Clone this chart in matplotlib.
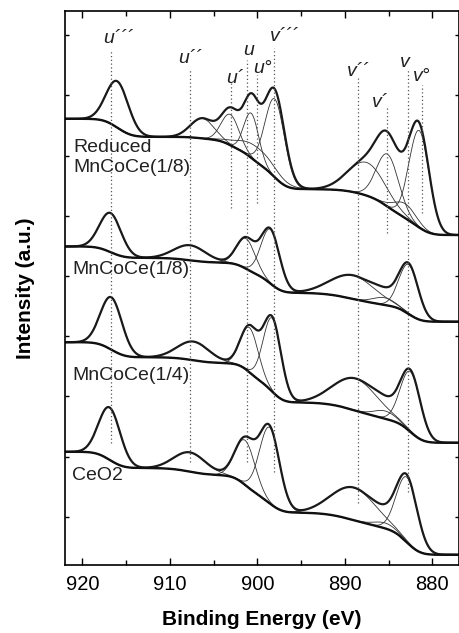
import numpy as np
import matplotlib.pyplot as plt

plt.rcParams['font.family'] = ['Liberation Sans', 'DejaVu Sans']

# Ce 3d fits: peak centre (eV), height, FWHM (eV), background step under each peak
reduced_pos = [916.0, 906.3, 903.1, 900.7, 900.0, 898.0, 887.5, 885.1, 883.1, 881.5]
reduced_height = [0.77, 0.33, 0.51, 0.74, 0.25, 1.30, 0.55, 0.87, 0.24, 1.61]
reduced_fwhm = [3.0, 3.2, 2.4, 2.0, 5.0, 2.6, 5.0, 3.0, 3.0, 2.7]
reduced_step = [0.30, 0.05, 0.15, 0.15, 0.20, 0.32, 0.20, 0.22, 0.12, 0.22]
reduced_base = 5.48

mc18_pos = [916.8, 907.7, 901.3, 898.5, 889.1, 885.5, 882.7]
mc18_height = [0.65, 0.25, 0.50, 0.90, 0.39, 0.12, 0.82]
mc18_fwhm = [2.9, 4.3, 2.5, 2.5, 6.0, 3.0, 2.6]
mc18_step = [0.19, 0.08, 0.20, 0.30, 0.20, 0.03, 0.25]
mc18_base = 4.04

mc14_pos = [916.7, 907.3, 900.9, 898.3, 888.8, 885.4, 882.5]
mc14_height = [0.87, 0.31, 0.74, 1.22, 0.53, 0.13, 1.00]
mc14_fwhm = [2.9, 4.3, 2.4, 2.4, 6.0, 3.0, 2.7]
mc14_step = [0.25, 0.10, 0.30, 0.35, 0.27, 0.05, 0.35]
mc14_base = 2.03

ceo2_pos = [916.9, 907.7, 901.4, 898.6, 889.0, 885.4, 882.9]
ceo2_height = [0.87, 0.32, 0.74, 1.26, 0.54, 0.09, 1.08]
ceo2_fwhm = [2.9, 4.3, 2.7, 2.7, 6.0, 3.0, 2.8]
ceo2_step = [0.27, 0.12, 0.32, 0.30, 0.25, 0.05, 0.40]
ceo2_base = 0.17

names = ['Reduced\nMnCoCe(1/8)', 'MnCoCe(1/8)', 'MnCoCe(1/4)', 'CeO2']
name_pos = [(921.0, 6.77), (921.2, 4.90), (921.2, 3.15), (921.2, 1.48)]

# peak labels and their dotted guide lines (eV, top, bottom)
peak_labels = ['u\u00b4\u00b4\u00b4', 'u\u00b4\u00b4', 'u\u00b4', 'u', 'u\u00b0',
               'v\u00b4\u00b4\u00b4', 'v\u00b4\u00b4', 'v\u00b4', 'v', 'v\u00b0']
label_xy = [(917.6, 8.67), (909.0, 8.34), (903.6, 8.01), (901.6, 8.47), (900.5, 8.17),
            (898.6, 8.70), (889.8, 8.12), (886.9, 7.61), (883.7, 8.27), (882.2, 8.03)]
guide_e = [916.7, 907.7, 903.0, 901.2, 900.0, 898.1, 888.5, 885.2, 882.8, 881.2]
guide_top = [8.55, 8.24, 8.02, 8.39, 8.14, 8.59, 8.11, 7.61, 8.22, 7.97]
guide_bot = [2.03, 1.71, 5.93, 1.71, 6.01, 1.54, 1.03, 5.51, 1.21, 5.85]

energy = np.linspace(876.0, 923.0, 1500)


def gauss(c, h, w):
    s = w / 2.3548
    return h * np.exp(-0.5 * ((energy - c) / s) ** 2)


def spectrum(pos, height, fwhm, step, base):
    bg = np.full_like(energy, base)
    comps = []
    for c, h, w, st in zip(pos, height, fwhm, step):
        g = gauss(c, 1.0, w)
        cum = np.cumsum(g)
        bg = bg + st * cum / cum[-1]
        comps.append(gauss(c, h, w))
    return bg, comps


fig = plt.figure(figsize=(4.59, 6.33), dpi=100)
ax = fig.add_axes([0.1416, 0.1074, 0.8574, 0.8752])

sets = [
    (reduced_pos, reduced_height, reduced_fwhm, reduced_step, reduced_base),
    (mc18_pos, mc18_height, mc18_fwhm, mc18_step, mc18_base),
    (mc14_pos, mc14_height, mc14_fwhm, mc14_step, mc14_base),
    (ceo2_pos, ceo2_height, ceo2_fwhm, ceo2_step, ceo2_base),
]

for (pos, height, fwhm, step, base), nm, (tx, ty) in zip(sets, names, name_pos):
    bg, comps = spectrum(pos, height, fwhm, step, base)
    for c in comps:
        ax.plot(energy, bg + c, color='#333333', lw=0.6)
    total = bg + np.sum(comps, axis=0)
    ax.plot(energy, total, color='#1a1a1a', lw=1.6)
    ax.plot(energy, bg, color='#111111', lw=1.7)
    ax.text(tx, ty, nm, fontsize=14, color='#222222', ha='left', va='center',
            linespacing=1.2)

for e, t, b in zip(guide_e, guide_top, guide_bot):
    ax.plot([e, e], [b, t], color='#555555', lw=0.9, ls=(0, (1, 2)))

for lab, (lx, ly) in zip(peak_labels, label_xy):
    ax.text(lx, ly, lab, fontsize=14, style='italic', color='#222222',
            ha='left', va='baseline')

ax.set_xlim(922, 877)
ax.set_ylim(0, 9.2)
ax.set_xticks([920, 910, 900, 890, 880])
ax.set_xticks([915, 905, 895, 885], minor=True)
ax.set_yticks(np.arange(0.8, 9.0, 1.0))
ax.set_yticklabels([])
ax.tick_params(axis='both', which='both', direction='in', top=True, right=True)
ax.tick_params(axis='x', which='major', length=5, width=1, labelsize=14.5, pad=7)
ax.tick_params(axis='x', which='minor', length=3.5, width=1)
ax.tick_params(axis='y', which='major', length=3, width=1)
for sp in ax.spines.values():
    sp.set_linewidth(1.2)

ax.set_xlabel('Binding Energy (eV)', fontsize=15, fontweight='bold', labelpad=12)
ax.set_ylabel('Intensity (a.u.)', fontsize=15, fontweight='bold', labelpad=18)

fig.savefig('out.png', dpi=100)
